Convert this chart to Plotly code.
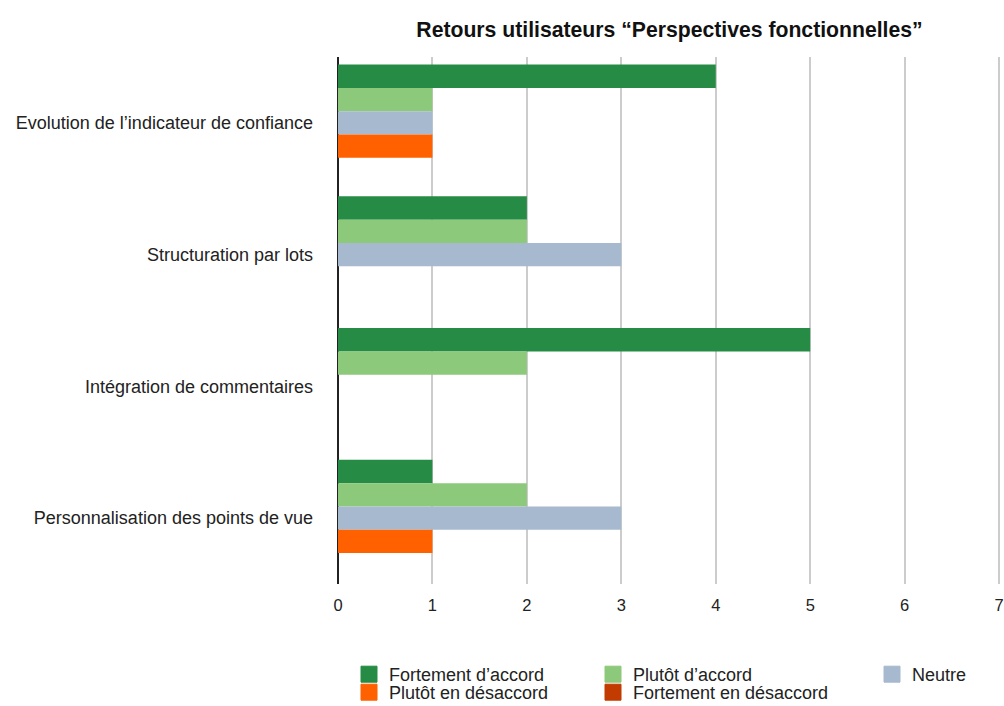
import plotly.graph_objects as go

# Data
categories = [
    "Evolution de l\u2019indicateur de confiance",
    "Structuration par lots",
    "Intégration de commentaires",
    "Personnalisation des points de vue",
]
series = [
    "Fortement d\u2019accord",
    "Plutôt d\u2019accord",
    "Neutre",
    "Plutôt en désaccord",
    "Fortement en désaccord",
]
fortement_accord = [4, 2, 5, 1]
plutot_accord = [1, 2, 2, 2]
neutre = [1, 3, 0, 3]
plutot_desaccord = [1, 0, 0, 1]
fortement_desaccord = [0, 0, 0, 0]
values = [fortement_accord, plutot_accord, neutre, plutot_desaccord, fortement_desaccord]
colors = ["#268c45", "#8dc97a", "#a6b9cf", "#ff6000", "#c23b00"]

# one legend box per entry, laid out as 3 columns x 2 rows
legend_ids = ["legend", "legend2", "legend3", "legend4", "legend5"]
legend_x = [349 / 1004, 593 / 1004, 872 / 1004, 349 / 1004, 593 / 1004]
legend_y = [1 - 656 / 706, 1 - 656 / 706, 1 - 656 / 706, 1 - 674 / 706, 1 - 674 / 706]

fig = go.Figure()
for name, vals, col in zip(series, values, colors):
    fig.add_trace(go.Bar(
        y=categories, x=vals, name=name, orientation="h", showlegend=False,
        marker=dict(color=col, line=dict(width=0)),
    ))

# legend-only entries with larger square swatches
for name, col, lg in zip(series, colors, legend_ids):
    fig.add_trace(go.Scatter(
        x=[None], y=[None], mode="markers", name=name, legend=lg,
        marker=dict(symbol="square", size=16, color=col, line=dict(width=1, color=col)),
    ))

leg_font = dict(size=18, color="#222222")
legends = {}
for lg, lx, ly in zip(legend_ids, legend_x, legend_y):
    legends[lg] = dict(orientation="v", xref="container", yref="container",
                       x=lx, y=ly, xanchor="left", yanchor="top", font=leg_font,
                       itemclick=False, bgcolor="rgba(0,0,0,0)")

fig.update_layout(
    width=1004, height=706,
    barmode="group", bargap=0.115, bargroupgap=0,
    paper_bgcolor="white", plot_bgcolor="white",
    font=dict(family="Liberation Sans, Arial, sans-serif", color="#222222"),
    title=dict(text="<b>Retours utilisateurs \u201cPerspectives fonctionnelles\u201d</b>",
               x=0.5, xref="paper", xanchor="center",
               y=1 - 30 / 706, yref="container", yanchor="middle",
               font=dict(size=21.2, color="#111111")),
    margin=dict(l=338, r=3, t=57, b=122, autoexpand=False),
    showlegend=True,
    **legends,
)
fig.update_xaxes(range=[0, 7.02], tickvals=[0, 1, 2, 3, 4, 5, 6, 7], showgrid=True,
                 gridcolor="#cccccc", gridwidth=1.5,
                 zeroline=True, zerolinecolor="#222222", zerolinewidth=1.5,
                 showline=False, tickfont=dict(size=16.5, color="#222222"),
                 ticklabeloverflow="allow",
                 ticks="outside", ticklen=6, tickcolor="white", automargin=False)
fig.update_yaxes(autorange="reversed", showgrid=False, showline=False, automargin=False,
                 tickfont=dict(size=18, color="#222222"), ticklabelstandoff=24)

# drop the default page margin so the 1004x706 figure fills the window exactly
fig.write_html("out.html", config={"displayModeBar": False},
               post_script="document.body.style.margin = '0';")
